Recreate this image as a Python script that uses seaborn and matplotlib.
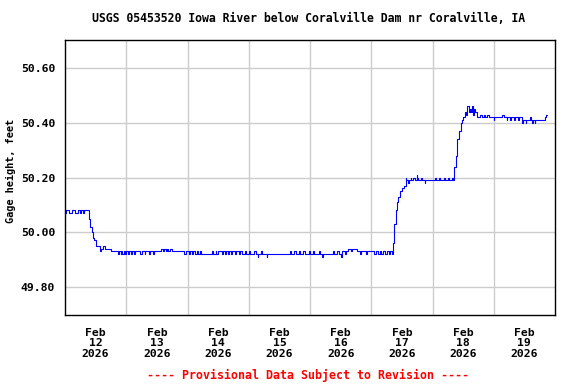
import matplotlib
matplotlib.use("Agg")
import matplotlib.pyplot as plt
import numpy as np
import pandas as pd
import seaborn as sns

# gage height readings, hours after 2026-02-12 00:00 (value holds until next reading)
drop_hours = [0, 0.5, 1.75, 2.75, 3.75, 5.0, 5.75, 6.25, 7.0, 7.5, 9.25, 9.5,
              9.9, 10.4, 10.9, 11.3, 12.2, 13.3, 13.8, 14.1, 15.0, 15.75, 16.8]
drop_ft = [50.07, 50.08, 50.07, 50.08, 50.07, 50.08, 50.07, 50.08, 50.07, 50.08,
           50.07, 50.05, 50.02, 50.00, 49.98, 49.97, 49.95, 49.95, 49.93, 49.94,
           49.95, 49.94, 49.94]

low_hours = [17.9, 20.75, 21.25, 21.75, 22.0, 22.5, 23.0, 23.5, 24.0, 24.5, 25.25,
             26.0, 26.25, 27.0, 27.5, 29.5, 30.0, 31.25, 31.5, 33.0, 33.5, 34.5,
             35.0, 37.75, 38.25, 38.75, 39.5, 40.0, 40.5, 41.0, 41.75, 46.75, 47.25,
             48.5, 49.0, 49.75, 50.25, 51.0, 51.75, 52.25, 52.75, 53.25, 57.5, 58.0,
             59.0, 59.25, 60.0, 61.5, 61.75, 62.5, 63.0, 64.0, 64.25, 65.0, 65.5,
             66.5, 67.0, 68.25, 68.75, 69.25, 70.5, 71.0, 72.0, 72.5, 74.25, 74.75,
             75.5, 75.75, 76.75, 77.0, 79.0, 79.25, 88.25, 88.75, 89.75, 90.5, 91.5,
             92.25, 93.25, 94.0, 95.5, 96.0, 97.25, 97.5, 99.5, 100.0, 100.75, 101.0,
             105.0, 105.5, 106.5, 107.5, 108.25, 108.5, 109.75, 110.25, 110.75,
             112.25, 112.5, 114.25, 115.5, 116.0, 118.0, 118.25, 121.0, 121.75,
             122.5, 123.25, 124.0, 124.75, 125.5, 126.0, 127.0, 127.5, 128.0]
low_ft = [49.93, 49.92, 49.93, 49.92, 49.93, 49.92, 49.93, 49.92, 49.93, 49.92, 49.93,
          49.92, 49.93, 49.92, 49.93, 49.92, 49.93, 49.92, 49.93, 49.92, 49.93, 49.92,
          49.93, 49.94, 49.93, 49.94, 49.93, 49.94, 49.93, 49.94, 49.93, 49.92, 49.93,
          49.92, 49.93, 49.92, 49.93, 49.92, 49.93, 49.92, 49.93, 49.92, 49.93, 49.92,
          49.93, 49.92, 49.93, 49.92, 49.93, 49.92, 49.93, 49.92, 49.93, 49.92, 49.93,
          49.92, 49.93, 49.92, 49.93, 49.92, 49.93, 49.92, 49.93, 49.92, 49.93, 49.92,
          49.91, 49.92, 49.93, 49.92, 49.91, 49.92, 49.93, 49.92, 49.93, 49.92, 49.93,
          49.92, 49.93, 49.92, 49.93, 49.92, 49.93, 49.92, 49.93, 49.92, 49.91, 49.92,
          49.93, 49.92, 49.93, 49.92, 49.91, 49.93, 49.92, 49.93, 49.94,
          49.93, 49.94, 49.93, 49.92, 49.93, 49.92, 49.93, 49.92, 49.93,
          49.92, 49.93, 49.92, 49.93, 49.92, 49.93, 49.92, 49.93, 49.92]

rise1_hours = [128.6, 129.0, 129.6, 130.0, 130.6, 131.3, 131.9, 132.8, 133.5, 133.75,
               134.5, 134.75, 135.5, 135.75, 136.5, 137.0, 137.75, 138.0, 138.5, 139.5,
               140.0, 141.0, 141.25, 145.0, 145.25, 146.5, 147.0, 148.5, 149.0, 150.25,
               150.5, 151.5, 152.0]
rise1_ft = [49.96, 50.03, 50.08, 50.11, 50.13, 50.15, 50.16, 50.17, 50.20, 50.19,
            50.18, 50.19, 50.20, 50.19, 50.20, 50.19, 50.21, 50.20, 50.19, 50.20,
            50.19, 50.18, 50.19, 50.20, 50.19, 50.20, 50.19, 50.20, 50.19, 50.20,
            50.19, 50.20, 50.19]

rise2_hours = [152.6, 153.1, 153.7, 154.4, 155.1, 155.5, 156.1, 156.8, 157.25, 157.7,
               158.25, 158.7, 159.0, 159.4, 159.75, 160.0, 160.4, 160.7, 161.6, 162.75,
               163.25, 164.0, 164.5, 165.5, 166.0, 168.0, 168.25, 171.25, 172.0, 173.0,
               173.25, 174.5, 174.75, 176.0, 176.5, 177.5, 178.0, 179.0, 179.5, 180.5,
               180.75, 182.25, 182.75, 183.0, 183.5, 184.0, 184.25, 188.0, 188.5, 188.9]
rise2_ft = [50.24, 50.28, 50.34, 50.37, 50.40, 50.41, 50.42, 50.44, 50.43, 50.46,
            50.44, 50.45, 50.44, 50.46, 50.45, 50.43, 50.45, 50.44, 50.42, 50.43,
            50.42, 50.43, 50.42, 50.43, 50.42, 50.41, 50.42, 50.43, 50.42, 50.41,
            50.42, 50.41, 50.42, 50.41, 50.42, 50.41, 50.42, 50.40, 50.41, 50.40,
            50.41, 50.42, 50.41, 50.40, 50.41, 50.40, 50.41, 50.42, 50.43, 50.43]

day_labels = ["Feb\n12\n2026", "Feb\n13\n2026", "Feb\n14\n2026", "Feb\n15\n2026",
              "Feb\n16\n2026", "Feb\n17\n2026", "Feb\n18\n2026", "Feb\n19\n2026"]
y_ticks = [49.80, 50.00, 50.20, 50.40, 50.60]

start = pd.Timestamp("2026-02-12 00:00")
hours = drop_hours + low_hours + rise1_hours + rise2_hours
stage = drop_ft + low_ft + rise1_ft + rise2_ft
df = pd.DataFrame({"time": start + pd.to_timedelta(hours, unit="h"), "stage": stage})

sns.set_style("white")
plt.rcParams.update({"text.color": "black", "axes.labelcolor": "black",
                     "xtick.color": "black", "ytick.color": "black"})
mono = "DejaVu Sans Mono"

fig, ax = plt.subplots(figsize=(5.76, 3.84), dpi=100)
fig.subplots_adjust(left=65 / 576, right=555 / 576, top=1 - 40 / 384, bottom=1 - 315 / 384)

sns.lineplot(data=df, x="time", y="stage", ax=ax, color="#0000ff", linewidth=0.8,
             drawstyle="steps-post", estimator=None)

ax.set_xlim(start, start + pd.Timedelta(days=8))
ax.set_ylim(49.698, 50.702)

noon_ticks = [start + pd.Timedelta(hours=12 + 24 * i) for i in range(len(day_labels))]
ax.set_xticks(noon_ticks)
ax.set_xticklabels(day_labels, fontfamily=mono, fontweight="bold", fontsize=8.2,
                   linespacing=1.1)
ax.set_xticks([start + pd.Timedelta(days=i) for i in range(1, 8)], minor=True)
ax.set_yticks(y_ticks)
ax.set_yticklabels([f"{v:.2f}" for v in y_ticks], fontfamily=mono, fontweight="bold",
                   fontsize=8.2)
ax.tick_params(axis="both", which="both", length=0, labelcolor="black")
ax.tick_params(axis="x", pad=9)
ax.tick_params(axis="y", pad=7)

ax.grid(False)
ax.grid(which="minor", axis="x", color="#cccccc", linewidth=1.0)
ax.grid(which="major", axis="y", color="#cccccc", linewidth=1.0)
ax.set_axisbelow(True)
for s in ax.spines.values():
    s.set_color("black")
    s.set_linewidth(1.0)

ax.set_xlabel("")
ax.set_ylabel("Gage height, feet", fontfamily=mono, fontweight="bold", fontsize=7.4,
              color="black")
ax.yaxis.set_label_coords(-0.100, 0.524)
fig.text(0.536, 1 - 19 / 384, "USGS 05453520 Iowa River below Coralville Dam nr Coralville, IA",
         ha="center", va="center", color="black", fontfamily=mono, fontweight="bold",
         fontsize=8.3)
fig.text(308 / 576, 1 - 375 / 384, "---- Provisional Data Subject to Revision ----",
         ha="center", va="center", color="red", fontfamily=mono, fontweight="bold",
         fontsize=8.4)

fig.savefig("out.png", dpi=100)
